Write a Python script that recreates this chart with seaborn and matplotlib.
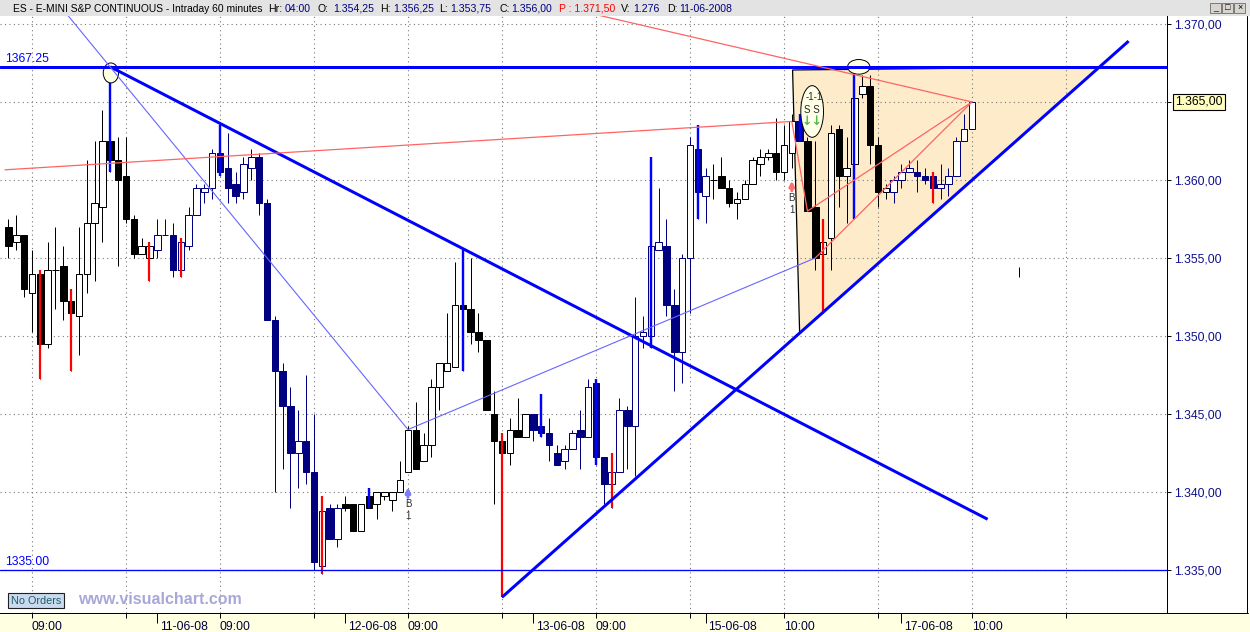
import numpy as np
import pandas as pd
import matplotlib
matplotlib.use("Agg")
import matplotlib.pyplot as plt
from matplotlib.patches import Ellipse, Polygon, Rectangle
from matplotlib.lines import Line2D
from matplotlib.transforms import ScaledTranslation
import seaborn as sns

# ES e-mini S&P, 60 minute bars; bar 0 = 10-06-08 09:00
first_bar = -3
opens = [
    1357.0, 1356.0, 1356.5,
    1352.75, 1354.0, 1349.5, 1354.25, 1354.5, 1352.25, 1351.25, 1354.0, 1357.25, 1358.25,
    1362.5, 1361.25, 1360.25, 1357.5, 1355.25, 1355.0, 1355.5, 1356.5, 1356.5, 1354.25,
    1355.75, 1357.75, 1359.25, 1359.5, 1361.75, 1360.75, 1359.75, 1359.25, 1360.75, 1361.5,
    1358.5, 1351.0, 1347.75, 1345.5, 1342.5, 1343.25, 1341.25, 1335.25, 1339.0, 1337.0,
    1339.25, 1339.25, 1337.5, 1339.75, 1339.25, 1339.75, 1339.5, 1340.0, 1341.25, 1344.0,
    1342.0, 1343.0, 1346.75, 1347.75, 1348.0, 1352.0, 1351.75, 1350.25, 1349.75, 1345.0,
    1343.25, 1342.5, 1344.0, 1343.5, 1345.0, 1344.25, 1343.75, 1342.5, 1342.0, 1342.75,
    1344.0, 1343.5, 1347.0, 1342.25, 1340.5, 1341.25, 1345.25, 1344.25, 1350.0, 1350.0,
    1355.5, 1355.75, 1352.0, 1349.0, 1355.0, 1362.0, 1359.0, 1360.0, 1360.25, 1359.5,
    1358.5, 1358.75, 1359.75, 1361.0, 1361.5, 1361.75, 1360.5, 1361.75, 1363.75, 1362.5,
    1358.25, 1355.25, 1356.25, 1363.25, 1360.25, 1361.0, 1365.5, 1366.0, 1362.25, 1359.25,
    1359.25, 1360.0, 1360.5, 1360.5, 1360.25, 1360.25, 1359.5, 1359.75, 1360.25, 1362.5,
    1363.25,
]
highs = [
    1357.5, 1357.75, 1356.5,
    1355.5, 1354.25, 1356.0, 1357.0, 1355.75, 1353.0, 1357.0, 1361.25, 1362.5, 1364.5,
    1367.25, 1362.75, 1362.75, 1357.75, 1356.25, 1356.0, 1357.5, 1357.5, 1357.25, 1356.25,
    1358.25, 1359.75, 1359.75, 1362.0, 1363.5, 1363.0, 1360.5, 1361.5, 1362.0, 1361.75,
    1358.75, 1351.25, 1348.25, 1346.75, 1345.25, 1347.5, 1345.0, 1339.75, 1339.25, 1339.25,
    1339.75, 1339.25, 1339.25, 1340.25, 1340.0, 1340.0, 1340.0, 1342.0, 1344.25, 1345.75,
    1343.75, 1347.25, 1348.25, 1351.5, 1354.75, 1355.5, 1355.0, 1351.5, 1349.75, 1346.5,
    1343.75, 1344.75, 1346.0, 1345.0, 1345.0, 1346.25, 1344.75, 1343.0, 1343.0, 1344.0,
    1345.25, 1347.25, 1347.25, 1342.25, 1342.5, 1346.0, 1345.5, 1352.5, 1351.25, 1361.5,
    1359.5, 1357.5, 1353.0, 1355.25, 1362.75, 1363.5, 1360.75, 1361.0, 1361.5, 1360.0,
    1359.25, 1360.0, 1361.5, 1362.0, 1362.0, 1364.0, 1363.5, 1364.25, 1364.25, 1362.75,
    1362.5, 1357.5, 1363.5, 1363.5, 1362.75, 1367.25, 1366.75, 1366.75, 1362.75, 1359.75,
    1360.25, 1361.0, 1361.25, 1361.25, 1360.75, 1360.5, 1361.0, 1360.75, 1362.75, 1364.25,
    1365.0,
]
lows = [
    1355.0, 1355.5, 1352.5,
    1350.25, 1347.25, 1349.25, 1351.75, 1351.0, 1347.75, 1348.75, 1352.75, 1353.5, 1356.0,
    1360.5, 1354.5, 1357.25, 1355.0, 1355.25, 1353.5, 1355.0, 1356.5, 1353.75, 1353.75,
    1355.5, 1357.75, 1358.5, 1358.75, 1360.25, 1358.5, 1358.5, 1358.75, 1360.0, 1357.75,
    1351.0, 1340.0, 1341.5, 1339.0, 1340.25, 1340.5, 1335.0, 1334.75, 1337.0, 1336.5,
    1338.75, 1337.5, 1337.5, 1339.0, 1338.25, 1339.5, 1338.75, 1340.0, 1341.25, 1341.5,
    1342.0, 1342.25, 1345.25, 1347.75, 1348.0, 1347.75, 1349.5, 1349.0, 1345.25, 1339.25,
    1333.25, 1341.75, 1343.5, 1343.5, 1343.25, 1343.5, 1342.0, 1341.75, 1341.5, 1342.75,
    1341.5, 1343.5, 1341.75, 1339.25, 1339.0, 1341.25, 1341.5, 1341.0, 1349.25, 1349.25,
    1355.5, 1351.25, 1346.5, 1347.0, 1351.5, 1357.5, 1357.25, 1358.75, 1359.5, 1358.25,
    1357.5, 1358.75, 1359.75, 1360.25, 1361.25, 1360.0, 1360.0, 1360.75, 1362.5, 1358.0,
    1354.25, 1351.5, 1354.25, 1358.25, 1357.25, 1357.5, 1365.25, 1361.0, 1358.25, 1358.75,
    1358.5, 1359.5, 1360.5, 1359.25, 1359.75, 1358.5, 1358.75, 1359.0, 1360.25, 1362.5,
    1363.25,
]
closes = [
    1355.75, 1356.5, 1353.0,
    1354.0, 1349.5, 1354.25, 1354.25, 1352.25, 1351.5, 1354.0, 1357.25, 1358.5, 1362.5,
    1361.25, 1360.0, 1357.5, 1355.25, 1355.75, 1355.75, 1356.5, 1356.5, 1354.25, 1356.0,
    1357.75, 1359.5, 1359.5, 1361.75, 1360.5, 1359.5, 1359.0, 1361.0, 1361.5, 1358.5,
    1351.0, 1347.75, 1345.5, 1342.5, 1343.25, 1341.25, 1335.5, 1338.75, 1337.0, 1339.0,
    1339.0, 1337.5, 1339.25, 1339.0, 1340.0, 1340.0, 1340.0, 1340.75, 1344.0, 1341.5,
    1343.0, 1346.75, 1348.25, 1348.25, 1352.0, 1351.75, 1350.25, 1349.75, 1345.25, 1343.25,
    1342.5, 1344.0, 1343.5, 1345.0, 1344.0, 1343.75, 1343.0, 1341.75, 1342.75, 1343.75,
    1343.5, 1346.75, 1342.25, 1340.5, 1341.25, 1345.25, 1344.25, 1350.0, 1350.25, 1355.75,
    1356.0, 1352.0, 1349.0, 1355.0, 1362.25, 1359.25, 1360.25, 1360.0, 1359.5, 1358.5,
    1358.75, 1359.75, 1361.25, 1361.5, 1361.75, 1360.5, 1362.25, 1363.75, 1362.5, 1358.0,
    1355.0, 1356.0, 1363.0, 1360.25, 1360.75, 1365.25, 1366.0, 1362.25, 1359.25, 1359.5,
    1360.0, 1360.5, 1360.75, 1360.25, 1360.0, 1359.5, 1359.75, 1360.25, 1362.5, 1363.25,
    1365.0,
]
# candle colour scheme per bar: k = black, n = navy
scheme = "k" * 19 + "n" * 24 + "k" * 24 + "n" * 23 + "k" * 11 + "n" + "k" * 11 + "n" * 11
red_wick_bars = [1, 5, 15, 19, 37, 60, 74, 101, 115]
blue_wick_bars = [10, 24, 43, 55, 65, 72, 79, 85, 98, 105]

# drawing tools
resistance = 1367.25
support = 1335.00
down_bars, down_prices = [10, 122], [1367.25, 1338.25]
up_bars, up_prices = [60, 140], [1333.25, 1368.9]
swing_bars, swing_prices = [4, 48, 100], [1370.9, 1344.0, 1355.0]
salmon_bars, salmon_prices = [-3.45, 97, 99, 120], [1360.65, 1363.75, 1358.0, 1365.0]
salmon2_bars, salmon2_prices = [100, 120], [1355.0, 1365.0]
salmon3_bars, salmon3_prices = [72, 120], [1370.6, 1365.0]
wedge_bars, wedge_prices = [97.1, 136.3, 98.0], [1367.05, 1367.25, 1350.2]

price_ticks = [1335, 1340, 1345, 1350, 1355, 1360, 1365, 1370]
grid_bars = [0, 12, 24, 36, 48, 60, 72, 84, 96, 108, 120, 132]
time_labels = ["09:00", "", "09:00", "", "09:00", "", "09:00", "", "10:00", "", "10:00", ""]
date_bars = [16, 40, 64, 86, 111]
date_labels = ["11-06-08", "12-06-08", "13-06-08", "15-06-08", "17-06-08"]
last_price = 1365.00

NAVY = "#000080"
BLUE = "#0000FF"
PX = 0.72  # points per pixel at 100 dpi
W, H = 1250, 632


def fxy(x, y):
    return x / W, 1 - y / H


def euro(p):
    return f"{p:,.2f}".replace(",", "X").replace(".", ",").replace("X", ".")


def main():
    sns.set_style("white")
    plt.rcParams["font.family"] = ["Liberation Sans", "DejaVu Sans"]

    fig = plt.figure(figsize=(12.5, 6.32), dpi=100)
    ax = fig.add_axes([0, 19 / H, 1167 / W, 597 / H])
    ax.set_xlim(-4.085, 144.9)
    ax.set_ylim(1332.24, 1370.51)

    # frame pieces of the trading window
    fig.add_artist(Rectangle((0, 1 - 16 / H), 1, 16 / H, transform=fig.transFigure,
                             fc="#E3E3E3", ec="none", zorder=-1))
    fig.add_artist(Rectangle((0, 0), 1, 19 / H, transform=fig.transFigure,
                             fc="#FFFFE1", ec="none", zorder=-1))
    fig.add_artist(Line2D([0, 1248 / W], [19 / H, 19 / H], transform=fig.transFigure,
                          color="black", lw=PX))
    fig.add_artist(Line2D([1247 / W, 1247 / W], [19 / H, 1 - 16 / H], transform=fig.transFigure,
                          color="black", lw=PX))
    for x0, glyph in zip([1210, 1222, 1234], ["_", "□", "×"]):
        fig.add_artist(Rectangle(fxy(x0, 13), 11 / W, 10 / H, transform=fig.transFigure,
                                 fc="#D8D5CF", ec="#555555", lw=0.5))
        fig.text(*fxy(x0 + 5.5, 8), glyph, fontsize=6.5, ha="center", va="center", color="black")

    # title bar
    fig.text(*fxy(13, 8.5), "ES - E-MINI S&P CONTINUOUS - Intraday 60 minutes",
             fontsize=7.35, color="black", ha="left", va="center")
    title_parts = [
        (268, "Hr:", "black"), (285, "04:00", NAVY),
        (317, "O:", "black"), (333, "1.354,25", NAVY),
        (380, "H:", "black"), (393, "1.356,25", NAVY),
        (439, "L:", "black"), (450, "1.353,75", NAVY),
        (499, "C:", "black"), (511, "1.356,00", NAVY),
        (559, "P : 1.371,50", "#FF0000"),
        (621, "V:", "black"), (633, "1.276", NAVY),
        (667, "D:", "black"), (679, "11-06-2008", NAVY),
    ]
    for x, s, c in title_parts:
        fig.text(*fxy(x, 8.5), s, fontsize=7.6, color=c, ha="left", va="center")

    # triangle area and grid
    ax.add_patch(Polygon(list(zip(wedge_bars, wedge_prices)), closed=True,
                         fc="#FDEBC9", ec="black", lw=0.9, zorder=1))
    for b in grid_bars:
        ax.axvline(b, color="#7A7A7A", ls=(0, (1, 3)), lw=0.8, zorder=1.5)
    for p in price_ticks:
        ax.axhline(p, color="#7A7A7A", ls=(0, (1, 3)), lw=0.8, zorder=1.5)

    # candles
    df = pd.DataFrame({"bar": np.arange(first_bar, first_bar + len(opens)),
                       "open": opens, "high": highs, "low": lows, "close": closes,
                       "scheme": list(scheme)})
    edge = df["scheme"].map({"k": "black", "n": NAVY})
    up = df["close"] >= df["open"]
    fill = edge.where(~up, "white")
    ax.vlines(df["bar"], df["low"], df["high"], colors=edge, lw=1.0 * PX, zorder=2)
    ax.bar(df["bar"], (df["close"] - df["open"]).abs(),
           bottom=df[["open", "close"]].min(axis=1), width=0.82,
           color=fill, edgecolor=edge, linewidth=1.0 * PX, zorder=3)
    red = df[df["bar"].isin(red_wick_bars)]
    ax.vlines(red["bar"], red["low"], red["high"], colors="#FF0000", lw=2.2 * PX, zorder=4)
    blue = df[df["bar"].isin(blue_wick_bars)]
    ax.vlines(blue["bar"], blue["low"], blue["high"], colors=BLUE, lw=2.4 * PX, zorder=4)
    ax.vlines(126, 1353.8, 1354.4, colors="black", lw=PX, zorder=4)

    # marked circles
    ax.add_patch(Ellipse((10.07, 1366.86), 1.95, 1.28, fc="#FFFFE3", ec="black", lw=0.7, zorder=4.5))
    ax.add_patch(Ellipse((105.55, 1367.25), 2.85, 0.94, fc="#FFFFE3", ec="black", lw=0.7, zorder=4.5))
    ax.add_patch(Ellipse((99.6, 1364.39), 2.9, 3.31, fc="#FFFFE8", ec="black", lw=0.7, zorder=4.5))
    ax.text(99.8, 1365.3, "-1-1", fontsize=7, ha="center", va="center", zorder=7)
    ax.text(99.6, 1364.5, "S S", fontsize=7, ha="center", va="center", zorder=7)
    ax.text(99.6, 1363.75, "↓↓", fontsize=9, fontweight="bold", color="#55B855",
            ha="center", va="center", zorder=7, family=["DejaVu Sans"])

    # trend lines
    ax.axhline(resistance, color=BLUE, lw=3 * PX, zorder=5)
    ax.axhline(support, color=BLUE, lw=1.3 * PX, zorder=5)
    ax.plot(down_bars, down_prices, color=BLUE, lw=3 * PX, zorder=5, solid_capstyle="butt")
    ax.plot(up_bars, up_prices, color=BLUE, lw=3 * PX, zorder=5, solid_capstyle="butt")
    sns.lineplot(x=swing_bars, y=swing_prices, ax=ax, color="#6666FF", lw=0.8, zorder=5)
    for bx, py in [(salmon_bars, salmon_prices), (salmon2_bars, salmon2_prices),
                   (salmon3_bars, salmon3_prices)]:
        sns.lineplot(x=bx, y=py, ax=ax, color="#FF6464", lw=0.9, zorder=5)

    ax.annotate("1367.25", xy=(0, resistance), xycoords=("axes fraction", "data"),
                xytext=(5 * PX, 2 * PX), textcoords="offset points",
                color=BLUE, fontsize=8.7, va="bottom", ha="left")
    ax.annotate("1335.00", xy=(0, support), xycoords=("axes fraction", "data"),
                xytext=(5 * PX, 2 * PX), textcoords="offset points",
                color=BLUE, fontsize=8.7, va="bottom", ha="left")

    # buy signals
    for b, p, c in [(48, 1340.3, "#7B7BFF"), (97, 1359.95, "#FF7070")]:
        ax.annotate("", xy=(b, p), xytext=(0, -10 * PX), textcoords="offset points",
                    arrowprops=dict(arrowstyle="-|>", color=c, lw=2.2, mutation_scale=7,
                                    shrinkA=0, shrinkB=0), zorder=6)
        ax.annotate("B", xy=(b, p), xytext=(0, -17 * PX), textcoords="offset points",
                    fontsize=7, color="#303030", ha="center", va="center")
        ax.annotate("1", xy=(b, p), xytext=(0, -29 * PX), textcoords="offset points",
                    fontsize=7, color="#303030", ha="center", va="center")

    # axes
    for side in ["top", "left"]:
        ax.spines[side].set_visible(False)
    for side in ["bottom", "right"]:
        ax.spines[side].set_color("black")
        ax.spines[side].set_linewidth(PX)

    ax.yaxis.tick_right()
    labels = ["" if p == last_price else euro(p) for p in price_ticks]
    ax.set_yticks(price_ticks, labels)
    ax.tick_params(axis="y", which="both", left=False, right=True, labelleft=False, labelright=True,
                   length=4 * PX, width=PX, pad=3 * PX, labelsize=8.7, labelcolor="#10108A",
                   color="black", direction="out")
    ax.annotate(euro(last_price), xy=(1, last_price), xycoords=("axes fraction", "data"),
                xytext=(8 * PX, 0), textcoords="offset points", fontsize=8.7, color="black",
                va="center", ha="left", annotation_clip=False,
                bbox=dict(boxstyle="square,pad=0.2", fc="#FFFFC0", ec="black", lw=0.8))

    ax.set_xticks(date_bars, date_labels)
    ax.set_xticks(grid_bars, time_labels, minor=True)
    ax.tick_params(axis="x", which="major", bottom=True, length=10 * PX, width=PX, pad=-1.5,
                   labelsize=8.7, labelcolor="#000040", color="black", direction="out")
    ax.tick_params(axis="x", which="minor", bottom=True, length=5 * PX, width=PX, pad=2.2,
                   labelsize=8.7, labelcolor="#000040", color="black", direction="out")
    shift = ScaledTranslation(2 / 72, 0, fig.dpi_scale_trans)
    for lab in ax.get_xticklabels(which="major"):
        lab.set_horizontalalignment("left")
        lab.set_transform(lab.get_transform() + shift)
    for lab in ax.get_xticklabels(which="minor"):
        lab.set_horizontalalignment("left")
    ax.set_xlabel("")
    ax.set_ylabel("")
    ax.grid(False)

    # footer texts inside the chart
    fig.text(*fxy(36, 600.5), "No Orders", fontsize=7.8, color="#1E5E5E", ha="center", va="center",
             bbox=dict(boxstyle="square,pad=0.25", fc="#C9DAF0", ec="#202020", lw=0.8))
    fig.text(*fxy(160, 599), "www.visualchart.com", fontsize=11.5, fontweight="bold",
             color="#A8A8D8", ha="center", va="center")

    fig.savefig("out.png", dpi=100)
    plt.close(fig)


if __name__ == "__main__":
    main()
